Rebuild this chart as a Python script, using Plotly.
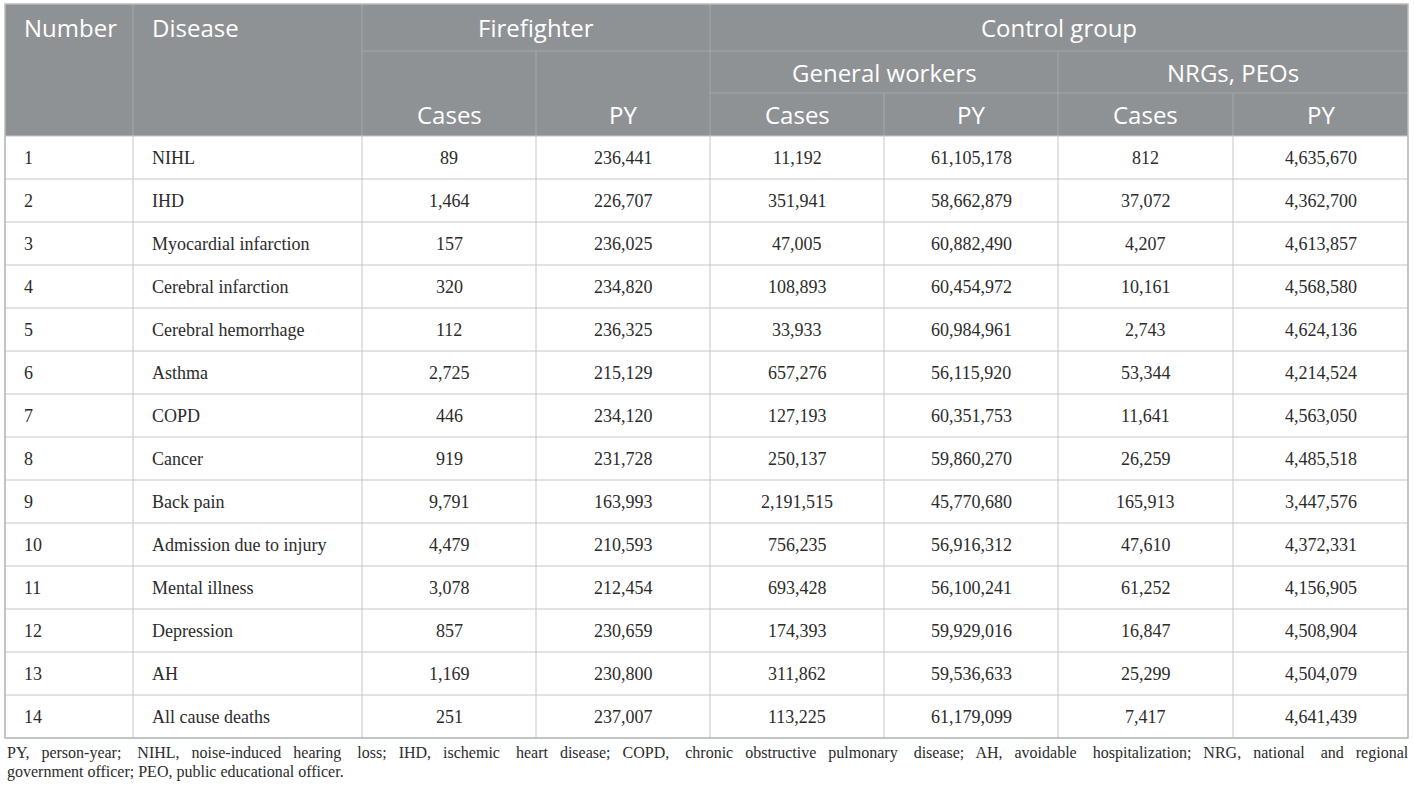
import plotly.graph_objects as go

# table data
numbers = [str(i) for i in range(1, 15)]
diseases = ["NIHL", "IHD", "Myocardial infarction", "Cerebral infarction",
            "Cerebral hemorrhage", "Asthma", "COPD", "Cancer", "Back pain",
            "Admission due to injury", "Mental illness", "Depression", "AH",
            "All cause deaths"]
ff_cases = ["89", "1,464", "157", "320", "112", "2,725", "446", "919", "9,791",
            "4,479", "3,078", "857", "1,169", "251"]
ff_py = ["236,441", "226,707", "236,025", "234,820", "236,325", "215,129",
         "234,120", "231,728", "163,993", "210,593", "212,454", "230,659",
         "230,800", "237,007"]
gw_cases = ["11,192", "351,941", "47,005", "108,893", "33,933", "657,276",
            "127,193", "250,137", "2,191,515", "756,235", "693,428", "174,393",
            "311,862", "113,225"]
gw_py = ["61,105,178", "58,662,879", "60,882,490", "60,454,972", "60,984,961",
         "56,115,920", "60,351,753", "59,860,270", "45,770,680", "56,916,312",
         "56,100,241", "59,929,016", "59,536,633", "61,179,099"]
nrg_cases = ["812", "37,072", "4,207", "10,161", "2,743", "53,344", "11,641",
             "26,259", "165,913", "47,610", "61,252", "16,847", "25,299", "7,417"]
nrg_py = ["4,635,670", "4,362,700", "4,613,857", "4,568,580", "4,624,136",
          "4,214,524", "4,563,050", "4,485,518", "3,447,576", "4,372,331",
          "4,156,905", "4,508,904", "4,504,079", "4,641,439"]

footnote_1 = ("PY, person-year; NIHL, noise-induced hearing loss; IHD, ischemic heart disease; "
              "COPD, chronic obstructive pulmonary disease; AH, avoidable hospitalization; "
              "NRG, national and regional")
footnote_2 = "government officer; PEO, public educational officer."

columns = [numbers, diseases, ff_cases, ff_py, gw_cases, gw_py, nrg_cases, nrg_py]

# layout geometry (pixels)
W, H = 1414, 795
col_x = [5, 133, 362, 536, 710, 884, 1058, 1233, 1408]
head_y = [4, 51, 93, 136]
row_h = 43
body_top = head_y[-1]
body_bot = body_top + row_h * len(numbers)

HEAD_BG = "#8f9294"
HEAD_LINE = "#a4a7a9"
GRID = "#c6c6c6"
TEXT = "#2b2b2b"
HFONT = dict(family="Open Sans", size=24, color="white")
BFONT = dict(family="Liberation Serif", size=18, color=TEXT)

shapes = []
ann = []


def line(x0, y0, x1, y1, color, width=1):
    shapes.append(dict(type="line", x0=x0, y0=y0, x1=x1, y1=y1, xref="x", yref="y",
                       line=dict(color=color, width=width)))


# header background
shapes.append(dict(type="rect", x0=col_x[0], x1=col_x[-1], y0=head_y[0], y1=head_y[-1],
                   xref="x", yref="y", fillcolor=HEAD_BG, line=dict(width=0), layer="below"))

# header separators
for i in (1, 2, 4):
    line(col_x[i], head_y[0], col_x[i], head_y[-1], HEAD_LINE)
line(col_x[3], head_y[1], col_x[3], head_y[-1], HEAD_LINE)
line(col_x[6], head_y[1], col_x[6], head_y[-1], HEAD_LINE)
line(col_x[5], head_y[2], col_x[5], head_y[-1], HEAD_LINE)
line(col_x[7], head_y[2], col_x[7], head_y[-1], HEAD_LINE)
line(col_x[2], head_y[1], col_x[-1], head_y[1], HEAD_LINE)
line(col_x[4], head_y[2], col_x[-1], head_y[2], HEAD_LINE)


def head_text(text, x0, x1, y0, y1, align="center"):
    x = (x0 + x1) / 2 if align == "center" else x0 + 17
    ann.append(dict(text=text, x=x, y=(y0 + y1) / 2, xref="x", yref="y",
                    xanchor=align, yanchor="middle", showarrow=False, font=HFONT))


head_text("Number", col_x[0], col_x[1], head_y[0], head_y[1], "left")
head_text("Disease", col_x[1], col_x[2], head_y[0], head_y[1], "left")
head_text("Firefighter", col_x[2], col_x[4], head_y[0], head_y[1])
head_text("Control group", col_x[4], col_x[8], head_y[0], head_y[1])
head_text("General workers", col_x[4], col_x[6], head_y[1], head_y[2])
head_text("NRGs, PEOs", col_x[6], col_x[8], head_y[1], head_y[2])
for i, lab in enumerate(["Cases", "PY"] * 3):
    head_text(lab, col_x[2 + i], col_x[3 + i], head_y[2], head_y[3])

# body grid
for r in range(len(numbers) + 1):
    y = body_top + r * row_h
    line(col_x[0], y, col_x[-1], y, GRID)
for x in col_x:
    line(x, body_top, x, body_bot, GRID)
# outer border
shapes.append(dict(type="rect", x0=col_x[0], x1=col_x[-1], y0=head_y[0], y1=body_bot,
                   xref="x", yref="y", line=dict(color="#b8bcbc", width=1.5)))

# body text
for c, vals in enumerate(columns):
    for r, v in enumerate(vals):
        yc = body_top + r * row_h + row_h / 2
        if c < 2:
            ann.append(dict(text=v, x=col_x[c] + 17, y=yc, xanchor="left", yanchor="middle",
                            xref="x", yref="y", showarrow=False, font=BFONT))
        else:
            ann.append(dict(text=v, x=(col_x[c] + col_x[c + 1]) / 2, y=yc, xanchor="center",
                            yanchor="middle", xref="x", yref="y", showarrow=False, font=BFONT))

# footnote (first line stretched to full width like justified text)
words = footnote_1.split(" ")
fn1 = words[0]
for i, w in enumerate(words[1:]):
    fn1 += "&nbsp;" * (2 + (i % 3 == 1)) + " " + w
ann.append(dict(text=fn1, x=col_x[0], y=body_bot + 15,
                xanchor="left", yanchor="middle", xref="x", yref="y", showarrow=False,
                font=dict(family="Liberation Serif", size=16, color=TEXT)))
ann.append(dict(text=footnote_2, x=col_x[0], y=body_bot + 34,
                xanchor="left", yanchor="middle", xref="x", yref="y", showarrow=False,
                font=dict(family="Liberation Serif", size=16, color=TEXT)))

fig = go.Figure()
fig.update_layout(
    width=W, height=H,
    margin=dict(l=0, r=0, t=0, b=0),
    paper_bgcolor="white", plot_bgcolor="white",
    xaxis=dict(range=[0, W], visible=False, fixedrange=True),
    yaxis=dict(range=[H, 0], visible=False, fixedrange=True),
    shapes=shapes, annotations=ann,
    showlegend=False,
)
# drop the default 8px page margin so the figure fills the window
fig.write_html("out.html", config={"displayModeBar": False},
               post_script="document.body.style.margin='0px';")
